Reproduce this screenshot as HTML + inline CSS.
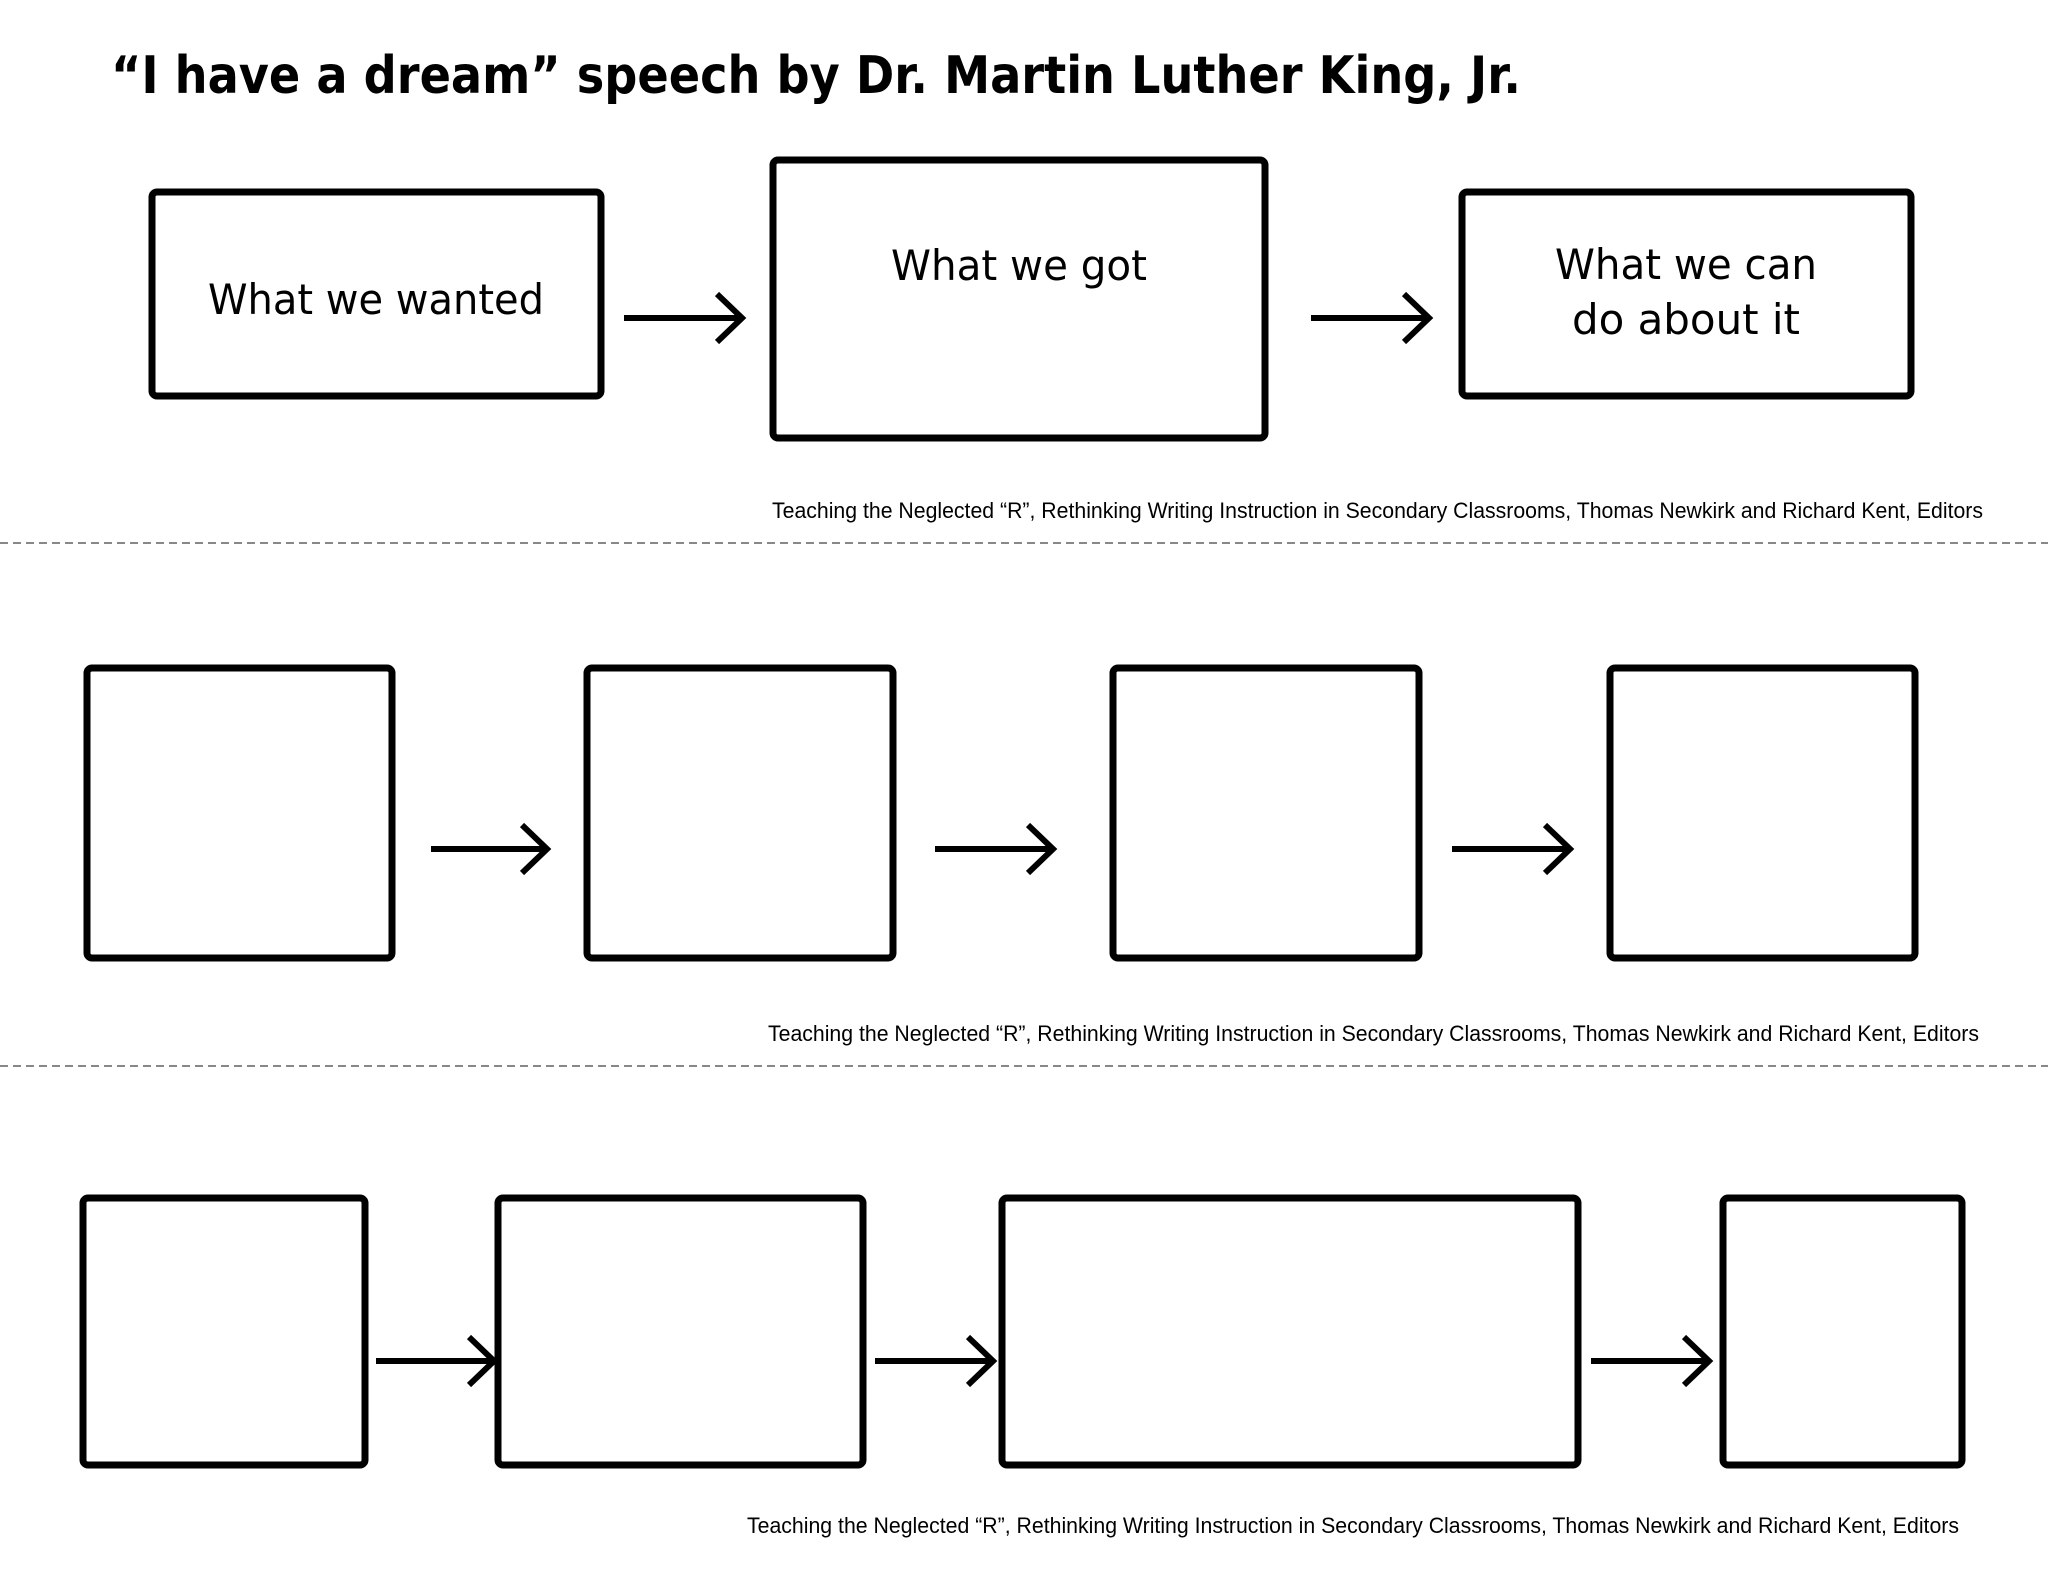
<!DOCTYPE html>
<html><head><meta charset="utf-8"><style>
html,body{margin:0;padding:0;background:#fff;}
svg{display:block;}
</style></head><body>
<svg width="2048" height="1582" viewBox="0 0 2048 1582" xmlns="http://www.w3.org/2000/svg">
<defs>
<marker id="ah" viewBox="0 0 20 20" refX="17" refY="10" markerWidth="20" markerHeight="20" markerUnits="userSpaceOnUse" orient="auto"></marker>
</defs>
<rect width="2048" height="1582" fill="#fff"/>
<text x="111" y="93" font-family="DejaVu Sans, sans-serif" font-weight="bold" font-size="52" textLength="1410" lengthAdjust="spacingAndGlyphs" fill="#000">“I have a dream” speech by Dr. Martin Luther King, Jr.</text>

<g fill="none" stroke="#000" stroke-width="7" stroke-linejoin="round">
<!-- row1 -->
<rect x="152" y="192" width="449" height="204" rx="5"/>
<rect x="773" y="160" width="492" height="278" rx="5"/>
<rect x="1462" y="192" width="449" height="204" rx="5"/>
<!-- row2 -->
<rect x="87" y="668" width="305" height="290" rx="5"/>
<rect x="587" y="668" width="306" height="290" rx="5"/>
<rect x="1113" y="668" width="306" height="290" rx="5"/>
<rect x="1610" y="668" width="305" height="290" rx="5"/>
<!-- row3 -->
<rect x="83" y="1198" width="282" height="267" rx="5"/>
<rect x="498" y="1198" width="365" height="267" rx="5"/>
<rect x="1002" y="1198" width="576" height="267" rx="5"/>
<rect x="1723" y="1198" width="239" height="267" rx="5"/>
</g>

<g stroke="#000" stroke-width="6" fill="none" stroke-linecap="butt">
<path d="M624 318H742M717 294L742 318L717 342"/>
<path d="M1311 318H1429M1404 294L1429 318L1404 342"/>
<path d="M431 849H547M522 825L547 849L522 873"/>
<path d="M935 849H1053M1028 825L1053 849L1028 873"/>
<path d="M1452 849H1570M1545 825L1570 849L1545 873"/>
<path d="M376 1361H494M469 1337L494 1361L469 1385"/>
<path d="M875 1361H993M968 1337L993 1361L968 1385"/>
<path d="M1591 1361H1709M1684 1337L1709 1361L1684 1385"/>
</g>

<g font-family="DejaVu Sans, sans-serif" font-size="42" fill="#000" text-anchor="middle">
<text x="376" y="314" textLength="336" lengthAdjust="spacingAndGlyphs">What we wanted</text>
<text x="1019" y="280" textLength="256" lengthAdjust="spacingAndGlyphs">What we got</text>
<text x="1686" y="279" textLength="262" lengthAdjust="spacingAndGlyphs">What we can</text>
<text x="1686" y="334" textLength="228" lengthAdjust="spacingAndGlyphs">do about it</text>
</g>

<g font-family="Liberation Sans, sans-serif" font-size="22" fill="#000">
<text x="772" y="518" textLength="1211" lengthAdjust="spacingAndGlyphs">Teaching the Neglected “R”, Rethinking Writing Instruction in Secondary Classrooms, Thomas Newkirk and Richard Kent, Editors</text>
<text x="768" y="1041" textLength="1211" lengthAdjust="spacingAndGlyphs">Teaching the Neglected “R”, Rethinking Writing Instruction in Secondary Classrooms, Thomas Newkirk and Richard Kent, Editors</text>
<text x="747" y="1533" textLength="1212" lengthAdjust="spacingAndGlyphs">Teaching the Neglected “R”, Rethinking Writing Instruction in Secondary Classrooms, Thomas Newkirk and Richard Kent, Editors</text>
</g>

<g stroke="#888" stroke-width="2" stroke-dasharray="8,5">
<line x1="0" y1="543" x2="2048" y2="543"/>
<line x1="0" y1="1066" x2="2048" y2="1066"/>
</g>
</svg>
</body></html>
